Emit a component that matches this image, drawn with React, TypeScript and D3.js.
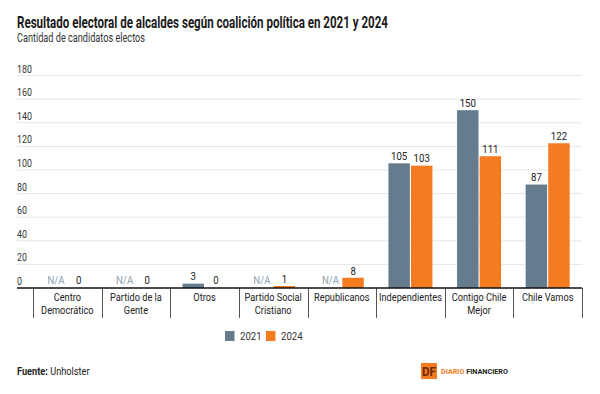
import * as d3 from "d3";

const categories = [
  ["Centro", "Democrático"],
  ["Partido de la", "Gente"],
  ["Otros"],
  ["Partido Social", "Cristiano"],
  ["Republicanos"],
  ["Independientes"],
  ["Contigo Chile", "Mejor"],
  ["Chile Vamos"],
];
const series = ["2021", "2024"];
// null = N/A
const values2021: (number | null)[] = [null, null, 3, null, null, 105, 150, 87];
const values2024: (number | null)[] = [0, 0, 0, 1, 8, 103, 111, 122];
const yTicks = [0, 20, 40, 60, 80, 100, 120, 140, 160, 180];

const colors = ["#647c8e", "#f47b20"];
const FONT = "Roboto, 'Noto Sans', sans-serif";

// condensed text helper
function CT({ x, y, children, size = 11, anchor = "middle", weight = 400, fill = "#222", sx = 0.84 }: any) {
  return (
    <g transform={`translate(${x},${y}) scale(${sx},1)`}>
      <text textAnchor={anchor} fontSize={size} fontWeight={weight} fill={fill} fontFamily={FONT}>
        {children}
      </text>
    </g>
  );
}

export default function App() {
  const W = 600, H = 394;
  const left = 17, right = 582;
  const x0 = d3.scaleBand<number>().domain(d3.range(categories.length)).range([33, 582]).padding(0);
  const bw = x0.bandwidth();
  const x1 = d3.scaleBand<string>().domain(series).range([bw / 2 - 22, bw / 2 + 22]).paddingInner(0.05);
  const y = d3.scaleLinear().domain([0, 180]).range([288, 75.6]);
  const data = [values2021, values2024];

  return (
    <svg width={W} height={H} style={{ position: "absolute", left: 0, top: 0, background: "#fff" }}>
      <rect width={W} height={H} fill="#fff" />
      <text x={17} y={28} fontSize={16} fontWeight={700} fill="#1a1a1a" fontFamily={FONT}
        textLength={371} lengthAdjust="spacingAndGlyphs">
        Resultado electoral de alcaldes según coalición política en 2021 y 2024
      </text>
      <text x={17} y={42} fontSize={12} fill="#333" fontFamily={FONT}
        textLength={128} lengthAdjust="spacingAndGlyphs">
        Cantidad de candidatos electos
      </text>

      {yTicks.map((t) => (
        <g key={t}>
          {t > 0 && <line x1={left} x2={right} y1={y(t)} y2={y(t)} stroke="#e6e6e6" strokeWidth={1} />}
          <CT x={left} y={y(t) - 3} anchor="start" size={10.5} fill="#333">{t}</CT>
        </g>
      ))}

      {categories.map((c, i) => (
        <g key={i}>
          {data.map((vals, s) => {
            const v = vals[i];
            const bx = x0(i)! + x1(series[s])!;
            const cx = bx + x1.bandwidth() / 2;
            if (v === null) {
              return <CT key={s} x={cx} y={y(0) - 4} size={11.5} fill="#8fa0b0">N/A</CT>;
            }
            return (
              <g key={s}>
                {v > 0 && (
                  <rect x={bx} y={y(v) - 0.8} width={x1.bandwidth()} height={y(0) - y(v) + 0.8} fill={colors[s]} />
                )}
                <CT x={cx} y={y(v) - 4} size={11.5} fill="#222">{v}</CT>
              </g>
            );
          })}
          {c.map((line, j) => (
            <CT key={j} x={x0(i)! + bw / 2} y={301 + j * 12.5} size={11} fill="#222">{line}</CT>
          ))}
        </g>
      ))}

      {d3.range(categories.length + 1).map((i) => {
        const xx = Math.round(33 + i * bw) + 0.5;
        return <line key={i} x1={xx} x2={xx} y1={288} y2={318} stroke="#555" strokeWidth={1} />;
      })}
      <line x1={left} x2={right} y1={288} y2={288} stroke="#111" strokeWidth={1.3} />

      {series.map((s, i) => (
        <g key={s} transform={`translate(${225 + i * 41},331)`}>
          <rect width={9.5} height={10} fill={colors[i]} />
          <CT x={15} y={9} anchor="start" size={11.5} fill="#333">{s}</CT>
        </g>
      ))}

      <CT x={17} y={375} anchor="start" size={11.5} fill="#222" sx={0.8}>
        <tspan fontWeight={700}>Fuente:</tspan> Unholster
      </CT>

      <rect x={421} y={363} width={16} height={16} fill="#f47b20" />
      <text x={429} y={376} textAnchor="middle" fontSize={12} fontWeight={700} fill="#6b2a08" fontFamily={FONT}
        textLength={14} lengthAdjust="spacingAndGlyphs">DF</text>
      <text x={441} y={374} fontSize={8} fontWeight={700} fontFamily={FONT} textLength={67} lengthAdjust="spacingAndGlyphs">
        <tspan fill="#f47b20">DIARIO </tspan><tspan fill="#222">FINANCIERO</tspan>
      </text>
    </svg>
  );
}
